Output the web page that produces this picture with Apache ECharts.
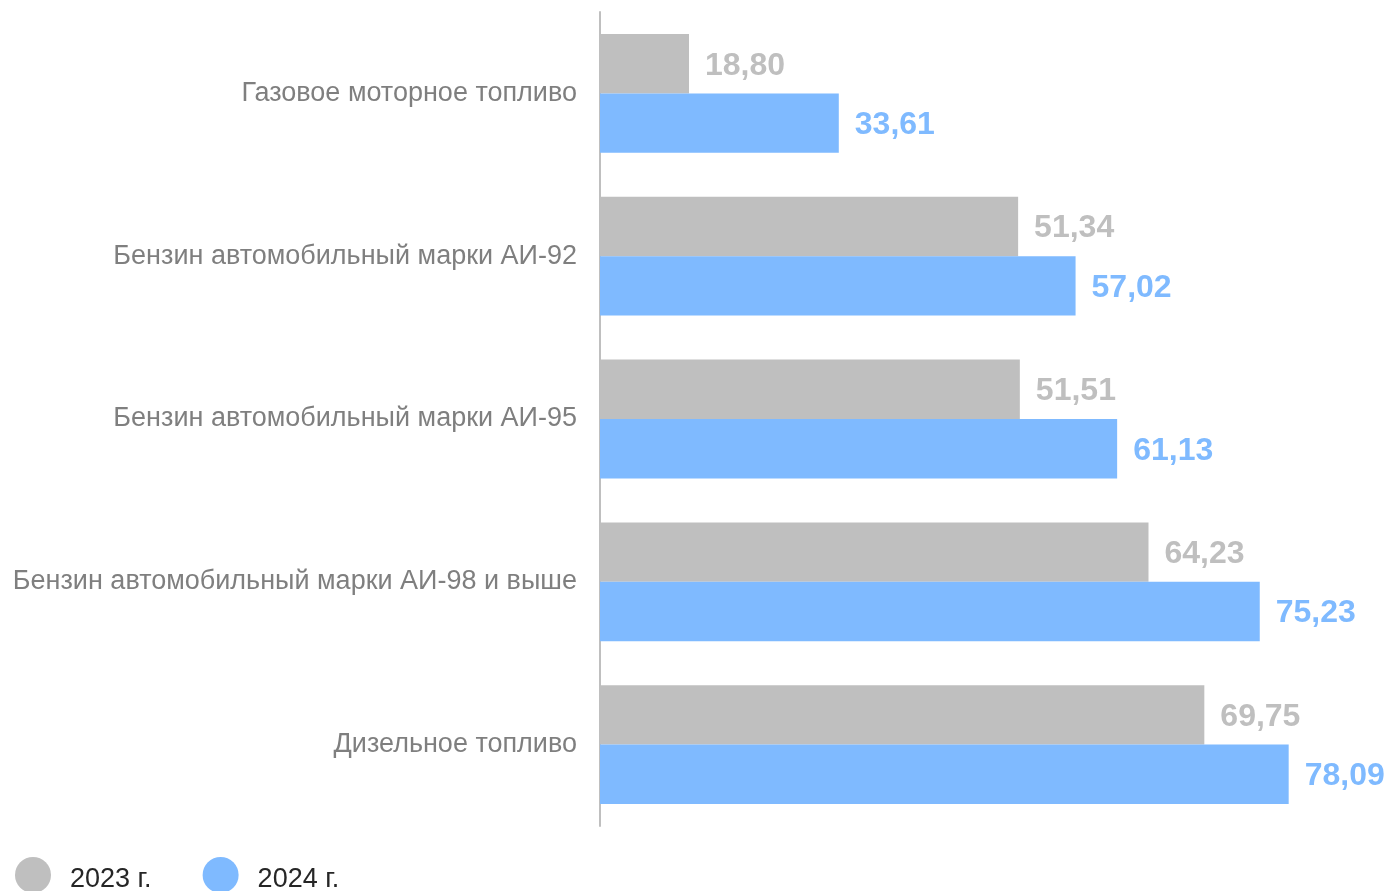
<!DOCTYPE html>
<html><head><meta charset="utf-8">
<script src="https://cdn.jsdelivr.net/npm/echarts@6/dist/echarts.min.js"></script>
<style>html,body{margin:0;padding:0;background:#fff}#c{width:1389px;height:891px}</style>
</head><body><div id="c"></div>
<script>
const categories = ["Газовое моторное топливо","Бензин автомобильный марки АИ-92","Бензин автомобильный марки АИ-95","Бензин автомобильный марки АИ-98 и выше","Дизельное топливо"];
const seriesNames = ["2023 г.","2024 г."];
const values2023 = [18.80, 51.34, 51.51, 64.23, 69.75];
const values2024 = [33.61, 57.02, 61.13, 75.23, 78.09];

const FF = "'Liberation Sans', Arial, sans-serif";
const fmt = p => p.value.toFixed(2).replace('.', ',');
const chart = echarts.init(document.getElementById('c'), null, {renderer:'canvas'});
chart.setOption({
  animation:false,
  textStyle:{fontFamily:FF},
  grid:{left:600, top:12, width:708, height:814, containLabel:false},
  legend:{
    data:seriesNames, left:15, top:857, padding:0, icon:'circle', itemWidth:36, itemHeight:36, itemGap:51,
    formatter: name => '{t|' + name + '}',
    textStyle:{fontSize:27, color:'#262626', fontFamily:FF,
      rich:{t:{fontSize:27, color:'#262626', fontFamily:FF, padding:[10,0,0,14]}}}
  },
  xAxis:{type:'value', min:10, max:80, show:false},
  yAxis:{
    type:'category', data:categories, inverse:true,
    axisLine:{lineStyle:{color:'#bfbfbf', width:2}},
    axisTick:{show:false},
    axisLabel:{fontSize:27, color:'#7f7f7f', margin:23, fontFamily:FF}
  },
  series:[
    {name:seriesNames[0], type:'bar', data:values2023, barGap:'0%', barCategoryGap:'27%',
     itemStyle:{color:'#bfbfbf'},
     label:{show:true, position:'right', distance:16, offset:[0,2], formatter:fmt, fontSize:32, fontWeight:'bold', color:'#bfbfbf', fontFamily:FF}},
    {name:seriesNames[1], type:'bar', data:values2024, barGap:'0%', barCategoryGap:'27%',
     itemStyle:{color:'#7fbaff'},
     label:{show:true, position:'right', distance:16, offset:[0,2], formatter:fmt, fontSize:32, fontWeight:'bold', color:'#7fbaff', fontFamily:FF}}
  ]
});
</script></body></html>
